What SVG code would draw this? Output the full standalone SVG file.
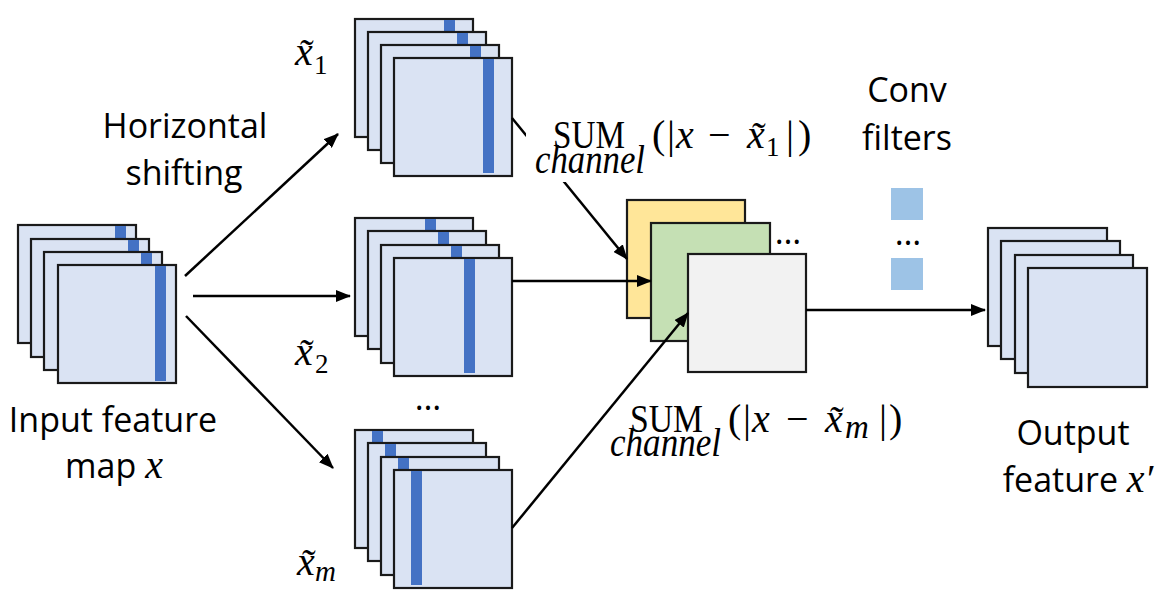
<svg xmlns="http://www.w3.org/2000/svg" width="1166" height="609" viewBox="0 0 1166 609">
<style>
.fm{fill:#DAE3F3;stroke:#1a1a1a;stroke-width:2.2}
.bar{fill:#4472C4}
.lbl{font-family:"Open Sans","Liberation Sans",sans-serif;font-size:34px;fill:#000}
.mi{font-family:"Liberation Serif","DejaVu Serif",serif;font-style:italic}
.mr{font-family:"Liberation Serif","DejaVu Serif",serif;font-style:normal}
.math{font-size:40px;fill:#000}
.sub{font-size:27px}
.con{stroke:#000;stroke-width:2.5;fill:none}
.flt{fill:#9DC3E6}
</style>
<defs>
<marker id="ah" markerUnits="userSpaceOnUse" markerWidth="16" markerHeight="12" refX="14" refY="6" orient="auto">
<path d="M0,0 L15,6 L0,12 z" fill="#000"/>
</marker>
</defs>
<rect width="1166" height="609" fill="#fff"/>

<g id="input-map">
<rect class="fm" x="18" y="225" width="118" height="118"/><rect class="bar" x="115" y="226" width="11" height="114"/>
<rect class="fm" x="31" y="239" width="118" height="118"/><rect class="bar" x="128" y="240" width="11" height="114"/>
<rect class="fm" x="44" y="252" width="118" height="118"/><rect class="bar" x="141" y="253" width="11" height="114"/>
<rect class="fm" x="58" y="265" width="118" height="118"/><rect class="bar" x="155" y="266" width="11" height="115"/>
<text class="lbl" x="113" y="432" text-anchor="middle">Input feature</text>
<text class="lbl" x="114" y="478" text-anchor="middle">map <tspan class="mi" font-size="40">x</tspan></text>
</g>

<g id="label-shift">
<text class="lbl" x="185" y="138" text-anchor="middle">Horizontal</text>
<text class="lbl" x="184" y="185" text-anchor="middle">shifting</text>
</g>

<g id="shift-1">
<rect class="fm" x="355" y="19" width="118" height="118"/><rect class="bar" x="444" y="20" width="11" height="114"/>
<rect class="fm" x="368" y="32" width="118" height="118"/><rect class="bar" x="457" y="33" width="11" height="114"/>
<rect class="fm" x="381" y="45" width="118" height="118"/><rect class="bar" x="470" y="46" width="11" height="114"/>
<rect class="fm" x="394" y="58" width="118" height="118"/><rect class="bar" x="483" y="59" width="11" height="114"/>
<text class="math" y="65"><tspan class="mi" x="295">x̃</tspan><tspan class="mr sub" x="314" dy="9">1</tspan></text>
</g>

<g id="shift-2">
<rect class="fm" x="355" y="218" width="118" height="118"/><rect class="bar" x="425" y="219" width="11" height="114"/>
<rect class="fm" x="368" y="231" width="118" height="118"/><rect class="bar" x="438" y="232" width="11" height="114"/>
<rect class="fm" x="381" y="245" width="118" height="118"/><rect class="bar" x="451" y="246" width="11" height="114"/>
<rect class="fm" x="394" y="258" width="118" height="118"/><rect class="bar" x="464" y="259" width="11" height="114"/>
<text class="math" y="365"><tspan class="mi" x="295">x̃</tspan><tspan class="mr sub" x="315" dy="8">2</tspan></text>
</g>

<text class="lbl" x="428" y="410" text-anchor="middle" font-size="28">…</text>

<g id="shift-m">
<rect class="fm" x="355" y="430" width="118" height="118"/><rect class="bar" x="372" y="431" width="11" height="114"/>
<rect class="fm" x="368" y="443" width="118" height="118"/><rect class="bar" x="385" y="444" width="11" height="114"/>
<rect class="fm" x="381" y="457" width="118" height="118"/><rect class="bar" x="398" y="458" width="11" height="114"/>
<rect class="fm" x="394" y="470" width="118" height="118"/><rect class="bar" x="411" y="471" width="11" height="114"/>
<text class="math" y="575"><tspan class="mi" x="297">x̃</tspan><tspan class="mi" font-size="29" x="315" dy="6">m</tspan></text>
</g>

<g id="diff-maps">
<rect x="627" y="200" width="118" height="118" fill="#FFE699" stroke="#1a1a1a" stroke-width="2.2"/>
<rect x="651" y="223" width="119" height="118" fill="#C5E0B4" stroke="#1a1a1a" stroke-width="2.2"/>
<rect x="688" y="254" width="118" height="118" fill="#F2F2F2" stroke="#1a1a1a" stroke-width="2.2"/>
<text class="lbl" x="788" y="244" text-anchor="middle" font-size="28">…</text>
</g>

<g id="conv-filters">
<text class="lbl" x="907" y="102" text-anchor="middle">Conv</text>
<text class="lbl" x="907" y="150" text-anchor="middle">filters</text>
<rect class="flt" x="891" y="188" width="32" height="32"/>
<text class="lbl" x="908" y="245" text-anchor="middle" font-size="28">…</text>
<rect class="flt" x="891" y="258" width="32" height="32"/>
</g>

<g id="output-map">
<rect class="fm" x="988" y="228" width="119" height="118"/>
<rect class="fm" x="1001" y="241" width="119" height="118"/>
<rect class="fm" x="1015" y="255" width="118" height="118"/>
<rect class="fm" x="1028" y="268" width="119" height="119"/>
<text class="lbl" x="1073" y="445" text-anchor="middle">Output</text>
<text class="lbl" x="1078" y="492" text-anchor="middle">feature <tspan class="mi" font-size="40">x′</tspan></text>
</g>

<g id="connectors">
<path class="con" d="M185,276 L338,134" marker-end="url(#ah)"/>
<path class="con" d="M193,296 L350,296" marker-end="url(#ah)"/>
<path class="con" d="M186,316 L333,468" marker-end="url(#ah)"/>
<path class="con" d="M512,118 L627,259" marker-end="url(#ah)"/>
<path class="con" d="M512,281 L651,281" marker-end="url(#ah)"/>
<path class="con" d="M512,528 L688,313" marker-end="url(#ah)"/>
<path class="con" d="M806,310 L985,310" marker-end="url(#ah)"/>
</g>

<g id="sum-1">
<rect x="526" y="114" width="292" height="68" fill="#fff"/>
<text class="math mr" x="553" y="148" textLength="72" lengthAdjust="spacingAndGlyphs">SUM</text>
<text class="math mi" x="535" y="173" font-size="29" textLength="110" lengthAdjust="spacingAndGlyphs">channel</text>
<text class="math mr" y="148"><tspan x="652">(</tspan><tspan x="667">|</tspan><tspan class="mi" x="676">x</tspan><tspan x="708">−</tspan><tspan class="mi" x="747">x̃</tspan><tspan class="sub" x="766" dy="8">1</tspan><tspan x="786" dy="-8">|</tspan><tspan x="798">)</tspan></text>
</g>

<g id="sum-m">
<text class="math mr" x="630" y="432" textLength="73" lengthAdjust="spacingAndGlyphs">SUM</text>
<text class="math mi" x="610" y="456" font-size="29" textLength="111" lengthAdjust="spacingAndGlyphs">channel</text>
<text class="math mr" y="432"><tspan x="728">(</tspan><tspan x="743">|</tspan><tspan class="mi" x="752">x</tspan><tspan x="786">−</tspan><tspan class="mi" x="825">x̃</tspan><tspan class="mi" font-size="33" x="845" dy="6">m</tspan><tspan x="879" dy="-6">|</tspan><tspan x="889">)</tspan></text>
</g>
</svg>
